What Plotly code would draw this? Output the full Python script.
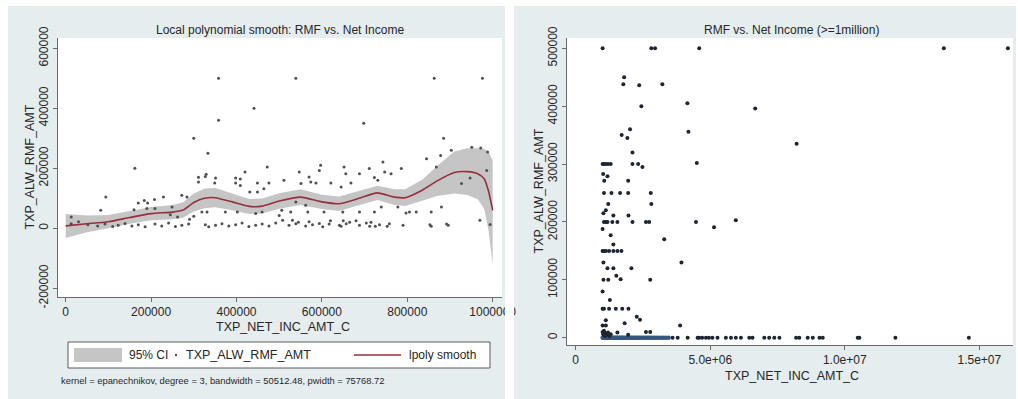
import plotly.graph_objects as go

W, H = 1018, 399

# ---------------- left panel: lpoly smooth of RMF on net income ----------------
smooth_x = [0, 50000, 100000, 150000, 200000, 250000, 275000, 300000, 325000, 350000,
            390000, 430000, 460000, 500000, 550000, 600000, 640000, 685000, 730000, 770000,
            795000, 835000, 870000, 910000, 940000, 965000, 980000, 990000, 1000000]
smooth_y = [8000, 15000, 22000, 36000, 49000, 54000, 61000, 86000, 100000, 102000,
            88000, 73000, 74000, 91000, 104000, 88000, 82000, 99000, 118000, 104000,
            102000, 127000, 158000, 186000, 189000, 182000, 165000, 125000, 60000]
ci_hi = [48000, 43000, 44000, 57000, 71000, 78000, 87000, 116000, 133000, 134000,
         116000, 98000, 99000, 117000, 130000, 112000, 106000, 123000, 142000, 130000,
         130000, 162000, 208000, 256000, 267000, 267000, 265000, 255000, 228000]
ci_lo = [-32000, -13000, 0, 15000, 27000, 30000, 35000, 56000, 67000, 70000,
         60000, 48000, 49000, 65000, 78000, 64000, 58000, 75000, 94000, 78000,
         74000, 92000, 108000, 116000, 111000, 97000, 65000, -5000, -120000]

inc_x = [358000, 539000, 863000, 976000, 441000, 358000, 698000, 300000, 885000, 333000,
         162000, 903000, 951000, 972000, 988000, 845000, 878000, 868000, 472000, 420000,
         329000, 311000, 351000, 398000, 409000, 547000, 597000, 594000, 652000, 656000,
         688000, 711000, 743000, 747000, 762000, 786000, 723000, 731000, 947000, 986000,
         927000, 511000, 551000, 570000, 574000, 586000, 621000, 645000, 668000, 311000,
         327000, 349000, 398000, 409000, 431000, 449000, 449000, 464000, 476000, 94000,
         82000, 170000, 184000, 192000, 208000, 209000, 229000, 190000, 249000, 272000,
         284000, 319000, 331000, 374000, 402000, 460000, 500000, 506000, 527000, 539000,
         562000, 605000, 649000, 688000, 739000, 778000, 805000, 821000, 856000, 880000,
         160000, 245000, 262000, 300000, 290000, 445000, 567000, 723000, 797000, 13000,
         13000, 30000, 52000, 75000, 92000, 110000, 123000, 139000, 155000, 170000,
         186000, 209000, 225000, 241000, 257000, 272000, 288000, 327000, 335000, 351000,
         366000, 382000, 398000, 413000, 429000, 445000, 460000, 476000, 492000, 508000,
         523000, 531000, 539000, 545000, 562000, 570000, 578000, 594000, 602000, 617000,
         620000, 641000, 645000, 650000, 657000, 665000, 680000, 688000, 704000, 712000,
         715000, 725000, 735000, 753000, 758000, 790000, 853000, 856000, 892000, 896000,
         970000, 994000]
rmf_y = [500000, 500000, 500000, 500000, 400000, 360000, 350000, 300000, 300000, 250000,
         200000, 260000, 270000, 268000, 254000, 232000, 243000, 204000, 204000, 188000,
         180000, 170000, 168000, 168000, 164000, 188000, 210000, 193000, 204000, 182000,
         182000, 199000, 221000, 188000, 182000, 199000, 169000, 160000, 168000, 193000,
         149000, 160000, 149000, 171000, 154000, 151000, 151000, 138000, 151000, 154000,
         173000, 151000, 151000, 143000, 121000, 151000, 121000, 132000, 151000, 104000,
         60000, 84000, 93000, 84000, 96000, 66000, 104000, 66000, 71000, 110000,
         104000, 54000, 54000, 54000, 54000, 54000, 43000, 60000, 54000, 88000,
         77000, 54000, 54000, 54000, 71000, 71000, 54000, 54000, 54000, 71000,
         62000, 45000, 38000, 40000, 30000, 49000, 54000, 54000, 51000, 38000,
         15000, 22000, 12000, 8000, 14000, 6000, 10000, 16000, 8000, 12000,
         5000, 14000, 8000, 18000, 6000, 10000, 14000, 12000, 5000, 10000,
         15000, 8000, 12000, 18000, 6000, 10000, 14000, 8000, 18000, 27000,
         10000, 27000, 15000, 20000, 8000, 22000, 12000, 16000, 5000, 14000,
         25000, 10000, 7000, 25000, 15000, 20000, 25000, 10000, 18000, 7000,
         20000, 7000, 12000, 7000, 15000, 10000, 12000, 7000, 14000, 10000,
         27000, 13000]

# ---------------- right panel: incomes of one million and above ----------------
big_inc_x = [1.00e6, 2.81e6, 2.95e6, 4.59e6, 13.68e6, 16.06e6,
             1.80e6, 1.77e6, 2.36e6, 3.22e6, 2.44e6, 4.15e6, 6.67e6,
             2.02e6, 1.71e6, 1.92e6, 4.19e6, 8.21e6, 2.11e6,
             1.00e6, 1.05e6, 1.12e6, 1.20e6, 1.30e6, 2.11e6, 2.32e6, 2.48e6, 4.50e6,
             1.02e6, 1.18e6, 1.06e6, 1.95e6,
             1.05e6, 1.33e6, 1.65e6, 1.95e6, 2.79e6,
             1.21e6, 2.81e6, 1.12e6, 1.03e6, 1.40e6, 1.96e6,
             1.05e6, 1.12e6, 1.18e6, 1.36e6, 1.55e6, 2.11e6, 2.61e6, 2.73e6, 4.47e6, 5.95e6, 5.14e6,
             1.00e6, 1.30e6, 1.40e6, 3.29e6,
             1.00e6, 1.05e6, 1.12e6, 1.24e6, 1.40e6, 1.55e6, 1.70e6,
             1.03e6, 3.93e6, 1.18e6, 1.40e6, 2.07e6, 1.51e6, 1.67e6,
             1.03e6, 1.21e6, 2.77e6, 1.00e6, 1.27e6,
             1.00e6, 1.05e6, 1.24e6, 1.49e6, 1.73e6, 1.96e6,
             1.12e6, 2.27e6, 2.39e6, 1.82e6, 3.88e6, 1.00e6, 1.12e6, 2.61e6, 2.77e6, 1.55e6, 1.95e6,
             1.00e6, 1.05e6, 1.10e6, 1.15e6, 1.20e6, 1.25e6, 1.30e6, 1.08e6, 1.02e6,
             3.60e6, 3.79e6, 4.16e6, 4.53e6, 4.59e6, 4.70e6, 4.84e6, 4.95e6, 5.08e6, 5.27e6,
             5.58e6, 5.77e6, 5.95e6, 6.14e6, 6.45e6, 6.57e6, 7.01e6, 7.19e6, 7.38e6, 7.57e6,
             8.19e6, 8.31e6, 8.62e6, 8.81e6, 9.06e6, 9.18e6, 10.48e6, 10.54e6, 11.88e6, 14.61e6]
big_rmf_y = [500000, 500000, 500000, 500000, 500000, 500000,
             450000, 438000, 436000, 438000, 400000, 405000, 396000,
             360000, 350000, 345000, 356000, 335000, 320000,
             300000, 300000, 300000, 300000, 300000, 300000, 300000, 295000, 302000,
             283000, 279000, 271000, 271000,
             250000, 250000, 250000, 250000, 250000,
             231000, 231000, 220000, 215000, 211000, 211000,
             200000, 200000, 200000, 200000, 200000, 200000, 200000, 200000, 200000, 203000, 191000,
             188000, 177000, 161000, 170000,
             150000, 150000, 150000, 150000, 150000, 150000, 150000,
             130000, 130000, 120000, 120000, 120000, 107000, 101000,
             100000, 100000, 100000, 80000, 65000,
             50000, 50000, 50000, 50000, 50000, 50000,
             30000, 36000, 31000, 25000, 21000, 21000, 21000, 10000, 10000, 9000, 5000,
             10000, 12000, 8000, 5000, 9000, 3000, 6000, 3000, 6000,
             0, 0, 0, 0, 0, 0, 0, 0, 0, 0,
             0, 0, 0, 0, 0, 0, 0, 0, 0, 0,
             0, 0, 0, 0, 0, 0, 0, 0, 0, 0]
# the crowded run of zero allowances between 1 and 3.5 million
zero_inc_x = [1.00e6, 1.04e6, 1.08e6, 1.11e6, 1.15e6, 1.19e6, 1.22e6, 1.26e6, 1.30e6, 1.35e6,
              1.39e6, 1.44e6, 1.48e6, 1.53e6, 1.57e6, 1.62e6, 1.66e6, 1.71e6, 1.75e6, 1.80e6,
              1.86e6, 1.91e6, 1.97e6, 2.02e6, 2.08e6, 2.13e6, 2.19e6, 2.25e6, 2.31e6, 2.37e6,
              2.43e6, 2.50e6, 2.56e6, 2.63e6, 2.70e6, 2.77e6, 2.84e6, 2.92e6, 3.00e6, 3.08e6,
              3.17e6, 3.26e6, 3.35e6, 3.45e6]
zero_rmf_y = [0] * len(zero_inc_x)

left_xticks = [0, 200000, 400000, 600000, 800000, 1000000]
left_xticktext = ["0", "200000", "400000", "600000", "800000", "1000000"]
left_yticks = [-200000, 0, 200000, 400000, 600000]
left_yticktext = ["-200000", "0", "200000", "400000", "600000"]
right_xticks = [0, 5e6, 1e7, 1.5e7]
right_xticktext = ["0", "5.0e+06", "1.0e+07", "1.5e+07"]
right_yticks = [0, 100000, 200000, 300000, 400000, 500000]
right_yticktext = ["0", "100000", "200000", "300000", "400000", "500000"]

FONT = "Liberation Sans, Arial, Helvetica, sans-serif"
TXT = "#262626"
AXC = "#6a6a6a"
BAND = "rgba(150,150,150,0.55)"
MAROON = "#95303d"
PANEL = "#e6edef"


def px(x):
    return x / W


def py(y):
    return 1 - y / H


fig = go.Figure()

fig.add_trace(go.Scatter(x=smooth_x, y=ci_hi, mode="lines", line=dict(width=0),
                         hoverinfo="skip", showlegend=False, xaxis="x", yaxis="y"))
fig.add_trace(go.Scatter(x=smooth_x, y=ci_lo, mode="lines", line=dict(width=0),
                         fill="tonexty", fillcolor=BAND, name="95% CI",
                         showlegend=False, xaxis="x", yaxis="y"))
fig.add_trace(go.Scatter(x=inc_x, y=rmf_y, mode="markers", name="TXP_ALW_RMF_AMT",
                         marker=dict(size=3, color="#505050"), showlegend=False,
                         xaxis="x", yaxis="y"))
fig.add_trace(go.Scatter(x=smooth_x, y=smooth_y, mode="lines", name="lpoly smooth",
                         line=dict(color=MAROON, width=1.6, shape="spline", smoothing=0.6),
                         showlegend=False, xaxis="x", yaxis="y"))

fig.add_trace(go.Scatter(x=zero_inc_x, y=zero_rmf_y, mode="markers",
                         marker=dict(size=4.5, color="#34577f"), showlegend=False,
                         xaxis="x2", yaxis="y2"))
fig.add_trace(go.Scatter(x=big_inc_x, y=big_rmf_y, mode="markers",
                         marker=dict(size=4, color="#1c2530"), showlegend=False,
                         xaxis="x2", yaxis="y2"))

axis_common = dict(showline=True, linecolor=AXC, linewidth=1, ticks="outside", ticklen=4,
                   tickcolor=AXC, tickwidth=1, showgrid=False, zeroline=False,
                   automargin=False,
                   tickfont=dict(family=FONT, size=12, color=TXT), fixedrange=True)

fig.update_layout(
    template="none",
    width=W, height=H, autosize=False,
    margin=dict(l=0, r=0, t=0, b=0, pad=0),
    paper_bgcolor=PANEL, plot_bgcolor="white",
    showlegend=False,
    xaxis=dict(domain=[px(58), px(502)], range=[-18000, 1021800], anchor="y",
               tickmode="array", tickvals=left_xticks, ticktext=left_xticktext,
               **axis_common),
    yaxis=dict(domain=[py(297), py(38)], range=[-229000, 634300], anchor="x",
               tickmode="array", tickvals=left_yticks, ticktext=left_yticktext,
               tickangle=-90, **axis_common),
    xaxis2=dict(domain=[px(567), px(1013)], range=[-0.323e6, 16.25e6], anchor="y2",
                tickmode="array", tickvals=right_xticks, ticktext=right_xticktext,
                **axis_common),
    yaxis2=dict(domain=[py(345), py(38)], range=[-12600, 517800], anchor="x2",
                tickmode="array", tickvals=right_yticks, ticktext=right_yticktext,
                tickangle=-90, **axis_common),
)

# white margins around the two graph regions
white_strips = [(0, 0, 8, H), (0, 0, W, 6), (505, 0, 514, H), (1016, 0, W, H)]
shapes = []
for x0, y0, x1, y1 in white_strips:
    shapes.append(dict(type="rect", xref="paper", yref="paper", layer="above",
                       x0=px(x0), x1=px(x1), y0=py(y1), y1=py(y0),
                       fillcolor="white", line=dict(width=0)))

# legend box for the left graph
shapes.append(dict(type="rect", xref="paper", yref="paper", x0=px(68), x1=px(490),
                   y0=py(368), y1=py(342), fillcolor="white", line=dict(color="#5a5a5a", width=1)))
shapes.append(dict(type="rect", xref="paper", yref="paper", x0=px(74), x1=px(122),
                   y0=py(362), y1=py(348), fillcolor=BAND, line=dict(width=0)))
shapes.append(dict(type="circle", xref="paper", yref="paper", x0=px(174.8), x1=px(177.2),
                   y0=py(356.2), y1=py(353.8), fillcolor="#505050", line=dict(width=0)))
shapes.append(dict(type="line", xref="paper", yref="paper", x0=px(354), x1=px(401),
                   y0=py(355), y1=py(355), line=dict(color=MAROON, width=1.6)))
fig.update_layout(shapes=shapes)


def label(text, x, y, size=12, angle=0, anchor="center"):
    fig.add_annotation(text=text, xref="paper", yref="paper", x=px(x), y=py(y),
                       xanchor=anchor, yanchor="middle", showarrow=False, textangle=angle,
                       font=dict(family=FONT, size=size, color=TXT))


label("Local polynomial smooth: RMF vs. Net Income", 280, 30)
label("TXP_NET_INC_AMT_C", 283, 326.5, size=12.5)
label("TXP_ALW_RMF_AMT", 29, 167.5, size=12.5, angle=-90)
label("95% CI", 127, 355, anchor="left")
label("TXP_ALW_RMF_AMT", 184, 355, size=12.5, anchor="left")
label("lpoly smooth", 407, 355, anchor="left")
label("kernel = epanechnikov, degree = 3, bandwidth = 50512.48, pwidth = 75768.72",
      59, 380, size=9.4, anchor="left")

label("RMF vs. Net Income (>=1million)", 791, 29.5)
label("TXP_NET_INC_AMT_C", 792, 376, size=12.5)
label("TXP_ALW_RMF_AMT", 538, 191.5, size=12.5, angle=-90)

fig.write_html("out.html")
